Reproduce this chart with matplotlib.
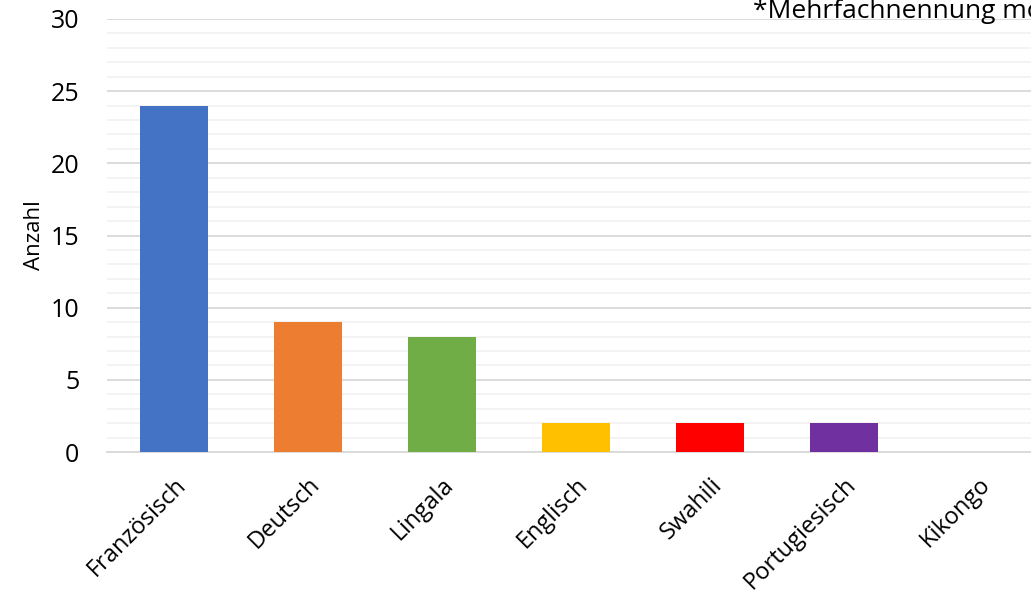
import matplotlib.pyplot as plt
from matplotlib.ticker import MultipleLocator

# Sprachen und Anzahl der Nennungen
sprachen = ['Französisch', 'Deutsch', 'Lingala', 'Englisch', 'Swahili',
            'Portugiesisch', 'Kikongo']
anzahl = [24, 9, 8, 2, 2, 2, 0]
farben = ['#4472C4', '#ED7D31', '#70AD47', '#FFC000', '#FF0000',
          '#7030A0', '#A5A5A5']

plt.rcParams['font.family'] = ['Open Sans', 'DejaVu Sans']

fig = plt.figure(figsize=(10.31, 5.96), dpi=100)
ax = fig.add_axes([107 / 1031, 144 / 596, 938 / 1031, 433 / 596])

ax.bar(range(len(sprachen)), anzahl, width=0.507, color=farben, zorder=3)

ax.set_xlim(-0.5, len(sprachen) - 0.5)
ax.set_ylim(0, 30)
ax.yaxis.set_major_locator(MultipleLocator(5))
ax.yaxis.set_minor_locator(MultipleLocator(1))
ax.grid(axis='y', which='major', color='#d9d9d9', linewidth=1.3, zorder=0)
ax.grid(axis='y', which='minor', color='#f2f2f2', linewidth=1.3, zorder=0)

for s in ['top', 'right', 'left']:
    ax.spines[s].set_visible(False)
ax.spines['bottom'].set_color('#d9d9d9')
ax.spines['bottom'].set_linewidth(1.3)

ax.set_xticks(range(len(sprachen)))
ax.set_xticklabels(sprachen, rotation=45, ha='right', rotation_mode='anchor',
                   fontsize=17)
ax.tick_params(axis='x', length=0, pad=15)
ax.tick_params(axis='y', which='both', length=0, labelsize=18, pad=20)

ax.set_ylabel('Anzahl', fontsize=16)
ax.yaxis.set_label_coords(-0.066, 0.5)

# Hinweis oben rechts, läuft über den Rand hinaus
fig.text(753 / 1031, 578 / 596, '*Mehrfachnennung möglich', fontsize=19,
         va='baseline', ha='left')

fig.savefig('out.png', dpi=100)
